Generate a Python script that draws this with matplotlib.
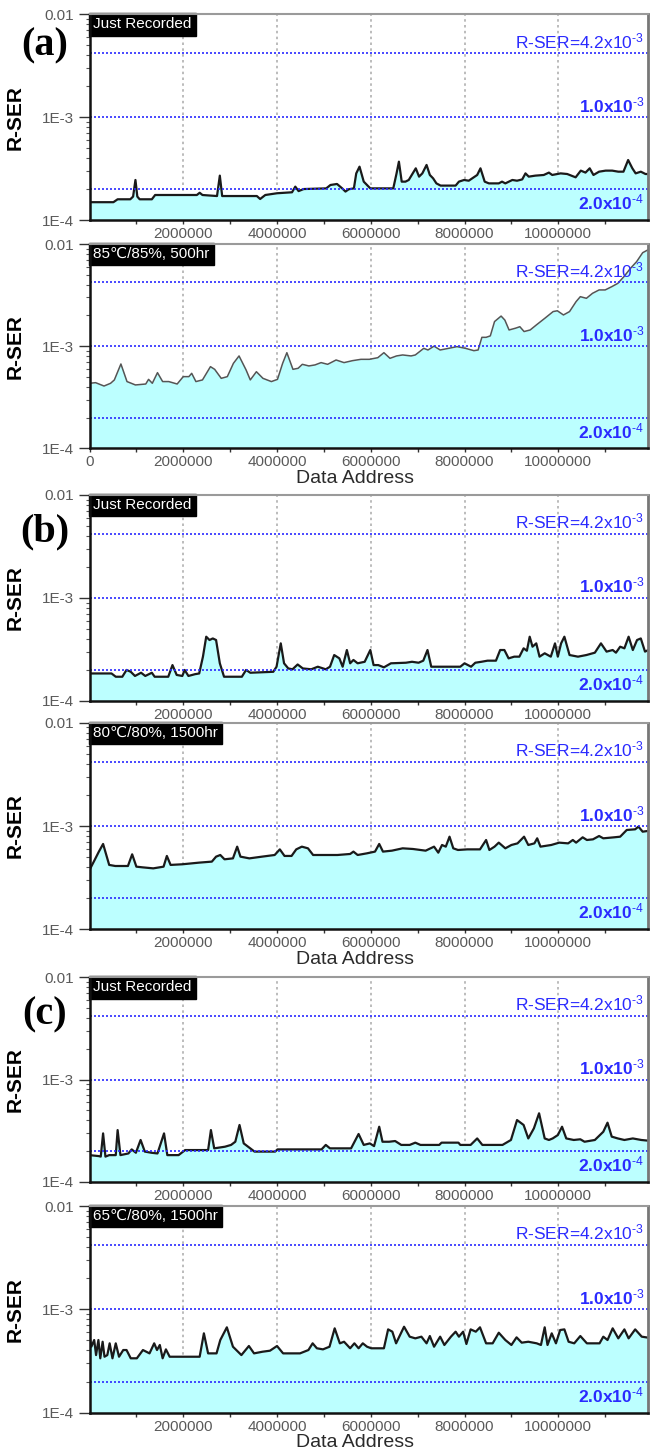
import numpy as np
import matplotlib
matplotlib.use("Agg")
import matplotlib.pyplot as plt
from matplotlib.ticker import FixedLocator, LogLocator, NullFormatter

plt.rcParams['font.family'] = ['Liberation Sans', 'DejaVu Sans']
plt.rcParams['mathtext.fontset'] = 'custom'
plt.rcParams['mathtext.rm'] = 'Liberation Sans'
plt.rcParams['mathtext.it'] = 'Liberation Sans'
plt.rcParams['mathtext.bf'] = 'Liberation Sans:bold'

# ---------------- data (x in millions of addresses, y in units of 1e-4) ----------------
a1_x = [0.0, 0.51, 0.60, 0.87, 0.93, 0.98, 1.02, 1.07, 1.33, 1.40, 2.29, 2.35, 2.41, 2.72, 2.78,
        2.83, 3.57, 3.64, 3.75, 4.00, 4.32, 4.39, 4.46, 4.57, 5.05, 5.14, 5.28, 5.39, 5.46, 5.53,
        5.64, 5.69, 5.76, 5.85, 5.99, 6.48, 6.55, 6.60, 6.66, 6.74, 6.81, 6.96, 7.03, 7.10, 7.19,
        7.26, 7.33, 7.40, 7.49, 7.81, 7.88, 7.99, 8.09, 8.27, 8.34, 8.43, 8.52, 8.73, 8.80, 8.87,
        9.02, 9.12, 9.23, 9.30, 9.37, 9.51, 9.69, 9.80, 9.87, 10.05, 10.19, 10.37, 10.48, 10.58,
        10.67, 10.75, 10.87, 11.01, 11.15, 11.28, 11.39, 11.49, 11.58, 11.65, 11.76, 11.86, 11.92]
a1_y = [1.49, 1.49, 1.59, 1.59, 1.69, 2.45, 1.69, 1.59, 1.59, 1.75, 1.75, 1.84, 1.75, 1.71, 2.70,
        1.71, 1.71, 1.60, 1.75, 1.82, 1.86, 2.11, 1.91, 2.00, 2.03, 2.19, 2.24, 2.03, 1.89, 1.99,
        2.03, 2.84, 3.30, 2.36, 2.03, 2.03, 2.84, 3.69, 2.36, 2.36, 2.45, 3.18, 2.64, 2.84, 3.43,
        2.74, 2.54, 2.27, 2.16, 2.16, 2.36, 2.45, 2.41, 2.74, 3.18, 2.36, 2.27, 2.27, 2.36, 2.27,
        2.45, 2.41, 2.48, 2.84, 2.64, 2.70, 2.74, 2.89, 2.74, 2.84, 2.80, 2.60, 3.02, 2.89,
        3.18, 2.74, 2.95, 3.02, 3.02, 2.95, 2.95, 3.83, 3.18, 2.84, 2.95, 2.80, 2.80]

a2_x = [0.0, 0.13, 0.31, 0.45, 0.53, 0.67, 0.80, 0.98, 1.20, 1.26, 1.34, 1.45, 1.56, 1.69, 1.87,
        2.00, 2.12, 2.18, 2.27, 2.41, 2.58, 2.67, 2.81, 2.94, 3.07, 3.19, 3.34, 3.43, 3.56, 3.70,
        3.88, 4.01, 4.12, 4.21, 4.34, 4.45, 4.54, 4.68, 4.81, 4.94, 5.08, 5.26, 5.43, 5.61, 5.79,
        5.97, 6.15, 6.28, 6.41, 6.55, 6.68, 6.86, 6.95, 7.04, 7.13, 7.22, 7.35, 7.48, 7.66, 7.84,
        8.02, 8.20, 8.29, 8.37, 8.46, 8.55, 8.64, 8.78, 8.86, 8.95, 9.09, 9.18, 9.27, 9.40, 9.53,
        9.71, 9.89, 9.98, 10.11, 10.24, 10.38, 10.47, 10.60, 10.73, 10.87, 11.00, 11.14, 11.27,
        11.40, 11.54, 11.67, 11.80, 11.92]
a2_y = [4.33, 4.39, 4.07, 4.33, 4.67, 6.69, 4.50, 4.17, 4.26, 4.73, 4.33, 5.50, 4.50, 4.50, 4.26,
        5.03, 5.03, 5.42, 4.50, 4.67, 6.30, 5.93, 4.84, 5.03, 6.79, 8.02, 5.85, 4.67, 5.62, 4.84,
        4.50, 4.73, 6.79, 8.63, 5.93, 6.07, 6.64, 6.40, 6.55, 6.90, 6.64, 7.32, 6.90, 7.21, 7.43,
        7.43, 7.71, 8.63, 7.60, 8.02, 8.20, 8.02, 8.20, 8.83, 9.52, 9.17, 10.0, 9.17, 9.52, 9.89,
        9.52, 9.03, 9.17, 12.2, 12.2, 12.6, 17.4, 19.7, 18.0, 14.4, 15.0, 15.5, 13.9, 14.4, 16.1,
        18.7, 21.8, 22.2, 20.2, 21.8, 27.3, 30.5, 29.4, 32.9, 35.5, 35.5, 38.2, 41.2,
        47.9, 57.8, 67.1, 82.2, 88.0]

b1_x = [0.0, 0.47, 0.56, 0.70, 0.79, 0.88, 0.97, 1.10, 1.19, 1.33, 1.39, 1.68, 1.77, 1.86, 1.98,
        2.03, 2.11, 2.25, 2.34, 2.42, 2.49, 2.56, 2.63, 2.70, 2.78, 2.87, 3.25, 3.34, 3.43, 3.92,
        3.99, 4.08, 4.15, 4.24, 4.33, 4.44, 4.55, 4.73, 4.87, 5.04, 5.13, 5.22, 5.33, 5.40, 5.49,
        5.56, 5.63, 5.72, 5.87, 5.99, 6.06, 6.16, 6.28, 6.43, 6.75, 6.88, 7.02, 7.12, 7.21, 7.29,
        7.91, 8.00, 8.14, 8.23, 8.36, 8.49, 8.67, 8.76, 8.85, 8.94, 9.06, 9.17, 9.26, 9.33, 9.39,
        9.45, 9.53, 9.60, 9.71, 9.84, 9.93, 9.99, 10.06, 10.13, 10.24, 10.42, 10.60, 10.78, 10.91,
        11.03, 11.16, 11.23, 11.32, 11.41, 11.50, 11.59, 11.68, 11.76, 11.85, 11.92]
b1_y = [1.84, 1.84, 1.71, 1.71, 1.99, 1.91, 1.74, 1.87, 1.74, 1.87, 1.71, 1.71, 2.22, 1.78, 1.74,
        1.99, 1.74, 1.81, 1.84, 2.68, 4.19, 3.89, 4.03, 3.89, 2.31, 1.71, 1.71, 1.99, 1.87, 1.91,
        2.14, 3.61, 2.31, 2.06, 2.02, 2.25, 2.06, 2.02, 2.14, 2.02, 2.14, 2.78, 2.58, 2.14, 3.11,
        2.31, 2.49, 2.31, 2.39, 3.11, 2.22, 2.22, 2.11, 2.31, 2.34, 2.39, 2.34, 2.45, 3.11, 2.14,
        2.14, 2.31, 2.14, 2.34, 2.39, 2.45, 2.45, 3.11, 3.11, 2.58, 2.68, 2.68, 3.23, 3.06, 4.19,
        3.35, 3.61, 2.68, 2.89, 2.68, 3.61, 2.68, 3.61, 4.19, 2.78, 2.68, 2.78, 2.93, 3.61,
        3.00, 3.11, 2.93, 3.35, 3.23, 4.19, 3.11, 3.89, 4.03, 3.00, 3.11]

b2_x = [0.0, 0.11, 0.20, 0.29, 0.42, 0.55, 0.82, 0.91, 1.00, 1.13, 1.36, 1.58, 1.65, 1.73, 1.98,
        2.34, 2.61, 2.70, 2.79, 2.88, 3.06, 3.15, 3.22, 3.41, 3.68, 3.95, 4.06, 4.16, 4.31, 4.41,
        4.53, 4.66, 4.77, 5.11, 5.29, 5.56, 5.63, 5.72, 5.92, 6.09, 6.18, 6.26, 6.45, 6.68, 6.90,
        7.17, 7.35, 7.44, 7.52, 7.60, 7.68, 7.76, 7.86, 8.06, 8.33, 8.46, 8.53, 8.64, 8.73, 8.87,
        9.00, 9.13, 9.27, 9.36, 9.49, 9.55, 9.62, 9.85, 10.02, 10.21, 10.31, 10.38, 10.52, 10.61,
        10.74, 10.87, 10.96, 11.19, 11.32, 11.46, 11.64, 11.71, 11.80, 11.92]
b2_y = [3.75, 4.69, 5.65, 6.70, 4.20, 4.10, 4.10, 5.32, 4.04, 3.98, 3.89, 4.04, 5.13, 4.20, 4.26,
        4.42, 4.52, 5.05, 5.24, 4.76, 4.86, 6.31, 5.05, 4.86, 5.05, 5.24, 5.94, 5.13, 5.13, 5.94,
        6.31, 6.08, 5.24, 5.24, 5.24, 5.36, 5.65, 5.24, 5.44, 5.65, 6.70, 5.65, 5.77, 6.08, 5.99,
        5.77, 6.31, 5.52, 6.55, 6.31, 7.88, 6.08, 5.86, 5.94, 5.94, 7.32, 5.86, 6.31, 6.90, 6.08,
        6.55, 6.79, 7.88, 6.55, 6.79, 7.60, 6.31, 6.55, 6.90, 6.79, 7.32, 6.90, 7.77, 7.32,
        7.43, 8.00, 7.60, 7.77, 7.88, 9.15, 9.29, 9.86, 8.81, 8.97]

c1_x = [0.0, 0.20, 0.24, 0.29, 0.34, 0.42, 0.56, 0.60, 0.66, 0.83, 0.90, 0.99, 1.09, 1.18, 1.32,
        1.45, 1.59, 1.66, 1.90, 2.04, 2.53, 2.59, 2.66, 2.89, 3.02, 3.11, 3.20, 3.29, 3.52, 3.96,
        4.01, 4.95, 5.04, 5.13, 5.58, 5.74, 5.85, 5.98, 6.07, 6.18, 6.25, 6.39, 6.52, 6.65, 6.83,
        6.95, 7.06, 7.46, 7.51, 7.87, 7.91, 8.13, 8.27, 8.38, 8.81, 8.99, 9.12, 9.26, 9.36, 9.48,
        9.59, 9.71, 9.80, 9.88, 9.99, 10.08, 10.17, 10.33, 10.47, 10.56, 10.78, 10.96, 11.05,
        11.14, 11.27, 11.41, 11.59, 11.77, 11.92]
c1_y = [1.82, 1.78, 1.76, 2.97, 1.76, 1.82, 1.82, 3.20, 1.82, 1.89, 2.07, 1.92, 2.56, 1.97, 1.92,
        1.89, 2.97, 1.82, 1.82, 2.04, 2.04, 3.20, 2.12, 2.20, 2.29, 2.46, 3.59, 2.37, 1.97, 1.97,
        2.07, 2.07, 2.29, 2.12, 2.12, 2.93, 2.29, 2.37, 2.23, 3.45, 2.46, 2.46, 2.50, 2.29, 2.29,
        2.41, 2.29, 2.29, 2.41, 2.41, 2.29, 2.29, 2.65, 2.29, 2.29, 2.56, 4.01, 3.59, 2.65, 3.33,
        4.67, 2.65, 2.56, 2.65, 2.86, 3.45, 2.65, 2.56, 2.60, 2.46, 2.56, 3.08, 3.78,
        2.76, 2.65, 2.56, 2.65, 2.56, 2.52]

c2_x = [0.0, 0.04, 0.10, 0.14, 0.19, 0.23, 0.28, 0.32, 0.38, 0.43, 0.49, 0.56, 0.63, 0.72, 0.79,
        0.88, 1.01, 1.14, 1.28, 1.38, 1.44, 1.50, 1.56, 1.63, 1.71, 1.81, 2.35, 2.44, 2.53, 2.71,
        2.79, 2.93, 3.06, 3.24, 3.40, 3.51, 3.69, 3.85, 4.00, 4.13, 4.49, 4.67, 4.76, 4.85, 4.98,
        5.12, 5.23, 5.34, 5.43, 5.56, 5.65, 5.74, 5.83, 5.92, 6.01, 6.28, 6.37, 6.46, 6.54, 6.71,
        6.83, 6.95, 7.08, 7.19, 7.26, 7.35, 7.48, 7.57, 7.71, 7.81, 7.88, 7.97, 8.04, 8.13, 8.24,
        8.33, 8.46, 8.60, 8.73, 8.87, 9.00, 9.11, 9.22, 9.36, 9.54, 9.63, 9.71, 9.77, 9.86, 9.95,
        10.04, 10.13, 10.22, 10.34, 10.47, 10.61, 10.88, 10.96, 11.05, 11.16, 11.28, 11.41, 11.50,
        11.64, 11.78, 11.92]
c2_y = [5.44, 4.35, 5.05, 3.61, 5.05, 3.36, 4.86, 3.48, 3.61, 4.69, 3.36, 4.69, 3.48, 4.04, 4.04,
        3.36, 3.36, 4.04, 3.75, 4.69, 4.04, 4.52, 3.36, 4.10, 3.48, 3.48, 3.48, 5.86, 3.75, 3.75,
        5.05, 6.70, 4.35, 3.61, 4.42, 3.75, 3.89, 3.98, 4.42, 3.75, 3.75, 4.04, 4.69, 4.20, 4.10,
        4.35, 6.55, 4.69, 4.86, 4.20, 4.69, 4.20, 4.69, 4.35, 4.20, 4.20, 6.40, 6.08, 4.69, 6.79,
        5.44, 5.24, 5.44, 4.69, 5.52, 4.35, 5.44, 4.52, 5.44, 6.08, 5.44, 6.08, 4.62, 6.40, 6.08,
        6.70, 4.69, 4.69, 5.94, 5.05, 4.52, 5.36, 4.76, 4.86, 4.69, 4.52, 6.70, 4.52, 5.86, 4.69,
        6.31, 6.40, 4.86, 4.69, 5.52, 4.69, 4.69, 5.44, 5.05, 6.55, 5.24, 6.40, 5.24,
        6.40, 5.44, 5.32]

panel_x = [a1_x, a2_x, b1_x, b2_x, c1_x, c2_x]
panel_y = [a1_y, a2_y, b1_y, b2_y, c1_y, c2_y]
panel_tags = ["Just Recorded", "85\u2103/85%, 500hr", "Just Recorded",
              "80\u2103/80%, 1500hr", "Just Recorded", "65\u2103/80%, 1500hr"]
panel_letters = ["(a)", "(b)", "(c)"]
ref_levels = [4.2e-3, 1.0e-3, 2.0e-4]
ref_labels = [r"R-SER=4.2x10$^{\text{-}3}$", r"1.0x10$^{\text{-}3}$", r"2.0x10$^{\text{-}4}$"]
xticks_major = [2000000, 4000000, 6000000, 8000000, 10000000]
xticks_minor = [1000000, 3000000, 5000000, 7000000, 9000000, 11000000]
ytick_vals = [1e-4, 1e-3, 1e-2]
ytick_labels = ["1E-4", "1E-3", "0.01"]

# ---------------- layout ----------------
W, H = 656, 1450
fig = plt.figure(figsize=(W / 100, H / 100), dpi=100)
left_px, right_px = 89.5, 648.3
panel_px = [(14.3, 220.0), (244.0, 448.3), (495.0, 700.7),
            (722.7, 929.3), (977.3, 1181.7), (1206.0, 1412.7)]
letter_y_px = [46, 532, 1015]

XMAX = 11.92e6
fill_col = '#bcffff'
tick_col = '#5a5a5a'
blue = '#2a2aff'

for i, (top, bot) in enumerate(panel_px):
    ax = fig.add_axes([left_px / W, 1 - bot / H, (right_px - left_px) / W, (bot - top) / H])
    x = np.array(panel_x[i]) * 1e6
    y = np.array(panel_y[i]) * 1e-4
    ax.set_yscale('log')
    ax.set_ylim(1e-4, 1e-2)
    ax.set_xlim(0, XMAX)

    # vertical dotted grid (behind fill)
    for gx in xticks_major:
        ax.axvline(gx, color='#b0b0b0', lw=1.2, ls=(0, (1.5, 2)), zorder=0)

    lc = '#555555' if i == 1 else '#1a1a1a'
    lw = 1.1 if i == 1 else 1.6
    ax.fill_between(x, 1e-4, y, color=fill_col, lw=0, zorder=1)
    ax.plot(x, y, color=lc, lw=lw, zorder=3, solid_joinstyle='round')

    for lvl, lab in zip(ref_levels, ref_labels):
        ax.axhline(lvl, color=blue, lw=1.2, ls=(0, (1.2, 1.2)), zorder=4)
        if lvl < 5e-4:
            ax.annotate(lab, xy=(1, lvl), xycoords=('axes fraction', 'data'),
                        xytext=(-3, -2.5), textcoords='offset points', ha='right', va='top',
                        color=blue, fontsize=12.5, fontweight='bold', zorder=5)
        else:
            ax.annotate(lab, xy=(1, lvl), xycoords=('axes fraction', 'data'),
                        xytext=(-3, 1.5), textcoords='offset points', ha='right', va='bottom',
                        color=blue, fontsize=12.5, fontweight='bold' if lvl < 2e-3 else 'normal',
                        zorder=5)

    # tag box
    ax.text(0.006, 0.985, panel_tags[i], transform=ax.transAxes, ha='left', va='top',
            color='white', fontsize=11, zorder=6,
            bbox=dict(boxstyle='square,pad=0.28', facecolor='black', edgecolor='black'))

    # ticks
    if i == 1:
        ax.xaxis.set_major_locator(FixedLocator([0] + xticks_major))
        ax.set_xticklabels(['0'] + [str(v) for v in xticks_major])
    else:
        ax.xaxis.set_major_locator(FixedLocator(xticks_major))
        ax.set_xticklabels([str(v) for v in xticks_major])
    ax.xaxis.set_minor_locator(FixedLocator(xticks_minor))
    ax.set_yticks(ytick_vals)
    ax.set_yticklabels(ytick_labels)
    ax.yaxis.set_minor_locator(LogLocator(base=10, subs=np.arange(2, 10)))
    ax.yaxis.set_minor_formatter(NullFormatter())
    ax.tick_params(axis='x', which='both', direction='out', length=3, width=1,
                   color='#333333', labelsize=11, labelcolor=tick_col, pad=2)
    ax.tick_params(axis='y', which='major', direction='out', length=8, width=1,
                   color='#333333', labelsize=11, labelcolor=tick_col, pad=3)
    ax.tick_params(axis='y', which='minor', direction='out', length=3, width=0.8,
                   color='#555555')
    ax.tick_params(right=False, top=False)

    for s in ['left', 'bottom']:
        ax.spines[s].set_color('#111111')
        ax.spines[s].set_linewidth(1.8)
    ax.spines['top'].set_color('#9a9a9a')
    ax.spines['top'].set_linewidth(1.5)
    ax.spines['right'].set_color('#777777')
    ax.spines['right'].set_linewidth(2.0)
    for s in ax.spines.values():
        s.set_zorder(7)

    ax.set_ylabel('R-SER', fontsize=15, fontweight='bold', color='black')
    ax.yaxis.set_label_coords((25 - left_px) / (right_px - left_px), 0.5)
    if i % 2 == 1:
        ax.set_xlabel('Data Address', fontsize=14, color='#2a2a2a')
        ax.xaxis.set_label_coords((355 - left_px) / (right_px - left_px), -30 / (bot - top))
        ax.xaxis.label.set_va('center')

for j, lt in enumerate(panel_letters):
    fig.text(45 / W, 1 - letter_y_px[j] / H, lt, ha='center', va='center',
             fontsize=29, fontweight='bold', family='Liberation Serif')

fig.savefig('out.png', dpi=100)
